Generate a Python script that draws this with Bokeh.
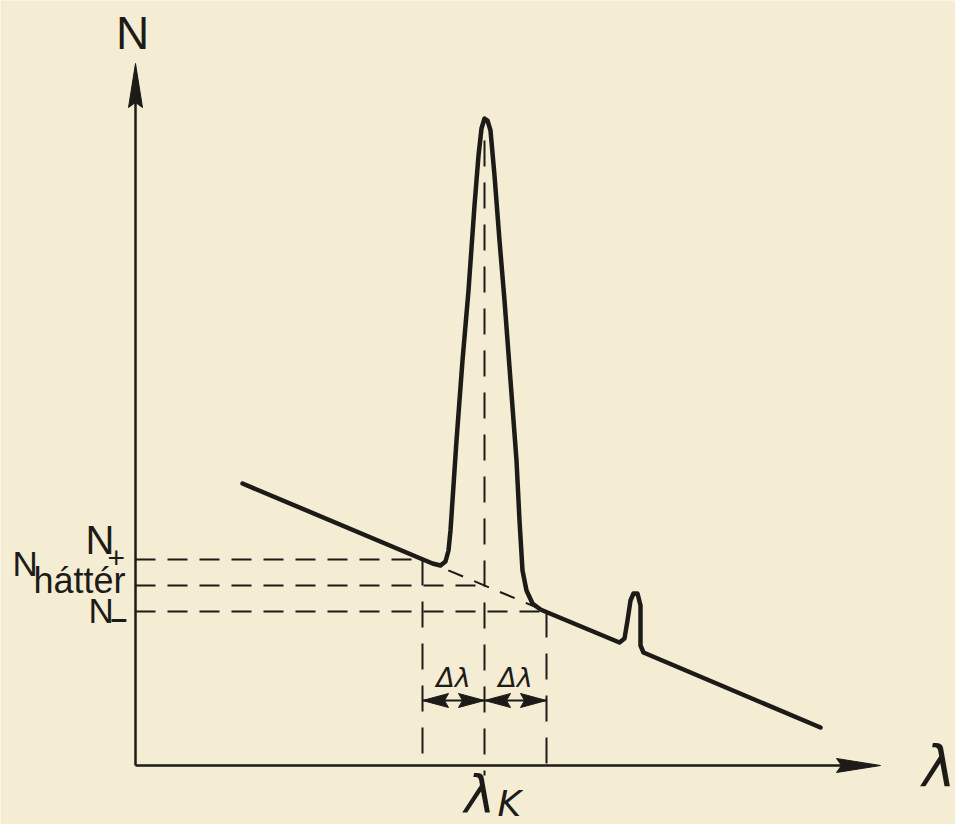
import numpy as np
from bokeh.plotting import figure
from bokeh.models import Range1d
from bokeh.core.properties import value
from bokeh.embed import file_html
from bokeh.resources import INLINE

# ---- data (arbitrary units: wavelength λ, counts N) ----
spec_lam = [107, 297, 305, 310, 313, 315, 317, 321, 327, 333, 339, 343, 346, 349,
            352, 355, 359, 364, 369, 375, 381, 384, 387, 391, 397, 405, 412,
            484, 489, 492, 495, 498, 502, 505, 505, 508, 515, 685]
spec_N = [282, 202, 200, 204, 215, 235, 265, 325, 405, 475, 560, 610, 637, 647,
          645, 635, 590, 525, 465, 385, 305, 245, 195, 175, 162, 156, 153,
          123, 127, 145, 165, 172, 172, 160, 120, 113, 110, 38]

lam_K = 349
d_lam = 62
N_plus = 206
N_bg = 180
N_minus = 154
peak_top = 625
axis_lam_max = 745
axis_N_max = 702
arrow_N = 65

INK = "#1d1b18"
PAPER = "#f4ecd3"

p = figure(width=955, height=824, x_range=Range1d(-135, 820), y_range=Range1d(-59, 765),
           output_backend="svg", toolbar_location=None, x_axis_type=None, y_axis_type=None,
           min_border=0, min_border_left=0, min_border_right=0, min_border_top=0, min_border_bottom=0)
p.grid.visible = False
p.outline_line_color = None
p.background_fill_color = PAPER
p.border_fill_color = PAPER


def head(tx, ty, dx, dy, length, half, notch):
    # arrowhead polygon, tip at (tx,ty), pointing along (dx,dy)
    nx, ny = -dy, dx
    bx, by = tx - dx * length, ty - dy * length
    return ([tx, bx + nx * half, tx - dx * (length - notch), bx - nx * half],
            [ty, by + ny * half, ty - dy * (length - notch), by - ny * half])

# axes
p.line([0, 0], [0, axis_N_max - 30], line_color=INK, line_width=2.5)
p.line([0, axis_lam_max - 30], [0, 0], line_color=INK, line_width=2.5)

# dashed helper lines
dash = "20 12"
lam_lo, lam_hi = lam_K - d_lam, lam_K + d_lam
p.multi_line([[0, lam_lo], [0, lam_K], [0, lam_hi]], [[N_plus, N_plus], [N_bg, N_bg], [N_minus, N_minus]],
             line_color=INK, line_width=2, line_dash=dash)
p.multi_line([[lam_lo, lam_lo], [lam_K, lam_K], [lam_hi, lam_hi]],
             [[N_plus, -3], [peak_top, -10], [N_minus, -3]],
             line_color=INK, line_width=2, line_dash="26 16")
p.line([lam_lo, lam_hi], [N_plus, N_minus], line_color=INK, line_width=2, line_dash="16 12")

# spectrum
p.line(spec_lam, spec_N, line_color=INK, line_width=4.5, line_join="round", line_cap="round")

# Δλ arrows
p.line([lam_lo, lam_hi], [arrow_N, arrow_N], line_color=INK, line_width=1.8)
hx, hy = [], []
for tip, d in [(lam_lo, -1), (lam_K, 1), (lam_K, -1), (lam_hi, 1)]:
    a, b = head(tip, arrow_N, d, 0, 26, 7, 4)
    hx.append(a); hy.append(b)
for (tx, ty, dx, dy) in [(0, axis_N_max, 0, 1), (axis_lam_max, 0, 1, 0)]:
    a, b = head(tx, ty, dx, dy, 44, 7, 5)
    hx.append(a); hy.append(b)
p.patches(hx, hy, fill_color=INK, line_color=INK, line_width=1)

# labels (text_baseline = bottom of the text box)
SANS = value("Liberation Sans")
p.text([-3], [707], text=["N"], text_font=SANS, text_font_size=value("46px"),
       text_align="center", text_color=INK)
p.text([-50], [204], text=["N"], text_font=SANS, text_font_size=value("40px"), text_color=INK)
p.text([-47, -123], [136, 183], text=["N", "N"], text_font=SANS,
       text_font_size=value("35px"), text_color=INK)
p.text([-28], [198], text=["+"], text_font=SANS, text_font_size=value("30px"), text_color=INK)
p.text([-25], [131], text=["–"], text_font=SANS, text_font_size=value("30px"),
       text_font_style="bold", text_color=INK)
p.text([-102], [165], text=["háttér"], text_font=SANS, text_font_size=value("36px"), text_color=INK)

LAM = value("DejaVu Sans")
p.text([329], [-58], text=["λ"], text_font=LAM, text_font_size=value("52px"),
       text_font_style="italic", text_color=INK)
p.text([787], [-33], text=["λ"], text_font=LAM, text_font_size=value("56px"),
       text_font_style="italic", text_color=INK)
p.text([362], [-58], text=["K"], text_font=LAM, text_font_size=value("36px"),
       text_font_style="italic", text_color=INK)
p.text([lam_K - d_lam / 2, lam_K + d_lam / 2], [73, 73], text=["Δλ", "Δλ"], text_font=LAM,
       text_font_size=value("27px"), text_font_style="italic", text_align="center", text_color=INK)

open("out.html", "w").write(file_html(p, INLINE))
